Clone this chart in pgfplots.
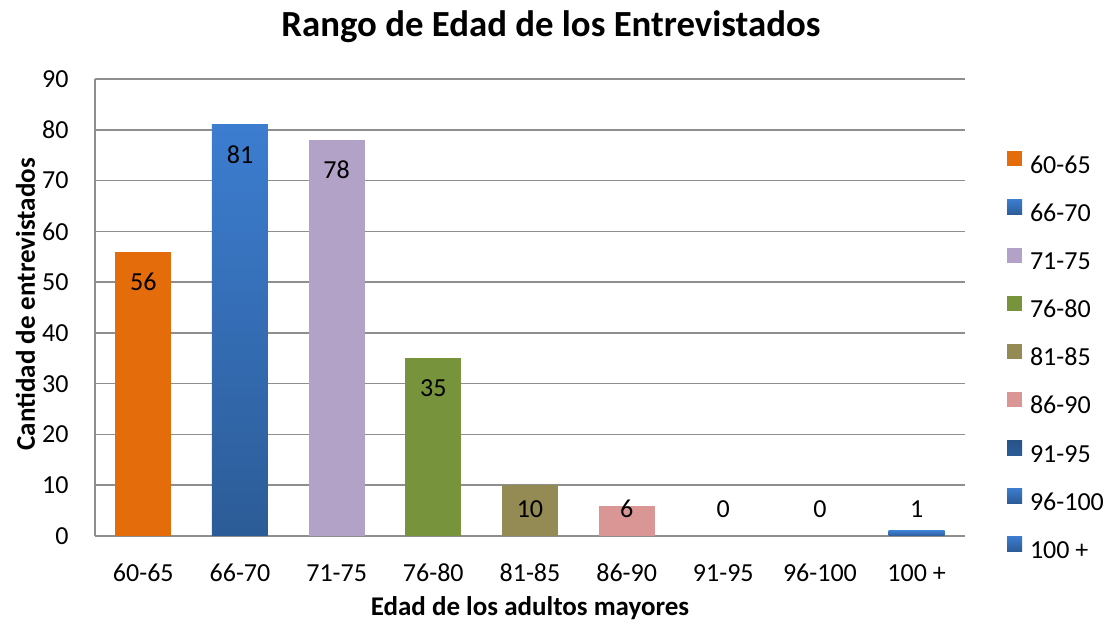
\documentclass[border=0pt]{standalone}
\usepackage{pgfplots}
\pgfplotsset{compat=1.18}
\usepackage{fontspec}
\setmainfont{Carlito}

\definecolor{cOrange}{HTML}{E46C0A}
\definecolor{cBlueTop}{HTML}{3C7DD0}
\definecolor{cBlueBot}{HTML}{2C5C97}
\definecolor{cLavender}{HTML}{B3A2C7}
\definecolor{cGreen}{HTML}{77933C}
\definecolor{cOlive}{HTML}{948A54}
\definecolor{cPink}{HTML}{D99694}
\definecolor{gridgray}{HTML}{8E8E8E}

\begin{document}
\begin{tikzpicture}
\useasboundingbox (0,0) rectangle (554.5pt,312pt);
\begin{axis}[
    at={(47.5pt,44pt)}, anchor=south west,
    scale only axis, width=435pt, height=228.5pt,
    ybar, bar width=28pt,
    xmin=-0.5, xmax=8.5, ymin=0, ymax=90,
    ytick={0,10,...,90},
    xtick={0,...,8},
    xticklabels={60-65,66-70,71-75,76-80,81-85,86-90,91-95,96-100,100 +},
    axis x line*=bottom, axis y line*=left,
    axis line style={draw=gridgray, line width=0.8pt, -},
    ymajorgrids, grid style={gridgray, line width=0.8pt},
    major tick length=0pt,
    tick style={draw=none},
    tick label style={font=\fontsize{13}{15}\selectfont},
    yticklabel style={anchor=east, inner sep=0pt, xshift=-13pt},
    xticklabel style={anchor=north, inner sep=0pt, text height=9pt, text depth=3pt, yshift=-13.7pt},
    /pgf/number format/assume math mode=true,
    title={Rango de Edad de los Entrevistados},
    title style={at={(axis description cs:0.524,1.1138)}, anchor=center, yshift=-6pt, font=\bfseries\fontsize{18.4}{22}\selectfont},
    xlabel={Edad de los adultos mayores},
    xlabel style={at={(axis description cs:0.5,-0.1575)}, anchor=center, font=\bfseries\fontsize{13.5}{16}\selectfont},
    ylabel={Cantidad de entrevistados},
    ylabel style={at={(axis description cs:-0.08,0.507)}, anchor=center, font=\bfseries\fontsize{13.5}{16}\selectfont},
    nodes near coords,
    every node near coord/.append style={anchor=center, text=black, font=\fontsize{13}{15}\selectfont},
    legend style={at={(axis description cs:1.0483,0.8416)}, anchor=north west, draw=none, fill=none,
        inner sep=0pt, outer sep=0pt, row sep=10.05pt, column sep=4pt,
        font=\fontsize{13}{15}\selectfont,
        nodes={inner sep=0pt, text height=9pt, text depth=3pt}},
    legend cell align=left,
    legend image code/.code={\path[#1] (0pt,0.5pt) rectangle (7.5pt,8pt);},
]
\addplot[fill=cOrange, draw=none, bar shift=0pt, every node near coord/.append style={yshift=-15pt}] coordinates {(0,56)};
\addplot[top color=cBlueTop, bottom color=cBlueBot, draw=none, bar shift=0pt, every node near coord/.append style={yshift=-15pt}] coordinates {(1,81)};
\addplot[fill=cLavender, draw=none, bar shift=0pt, every node near coord/.append style={yshift=-15pt}] coordinates {(2,78)};
\addplot[fill=cGreen, draw=none, bar shift=0pt, every node near coord/.append style={yshift=-15pt}] coordinates {(3,35)};
\addplot[fill=cOlive, draw=none, bar shift=0pt, every node near coord/.append style={yshift=-12pt}] coordinates {(4,10)};
\addplot[fill=cPink, draw=none, bar shift=0pt, every node near coord/.append style={yshift=-1.75pt}] coordinates {(5,6)};
\addplot[top color=cBlueBot!90!black, bottom color=cBlueBot, draw=none, bar shift=0pt, every node near coord/.append style={yshift=13.5pt}] coordinates {(6,0)};
\addplot[top color=cBlueTop, bottom color=cBlueBot, draw=none, bar shift=0pt, every node near coord/.append style={yshift=13.5pt}] coordinates {(7,0)};
\addplot[top color=cBlueTop, bottom color=cBlueBot, draw=none, bar shift=0pt, every node near coord/.append style={yshift=11pt}] coordinates {(8,1)};
\legend{60-65,66-70,71-75,76-80,81-85,86-90,91-95,96-100,100 +}
\end{axis}
\end{tikzpicture}
\end{document}
